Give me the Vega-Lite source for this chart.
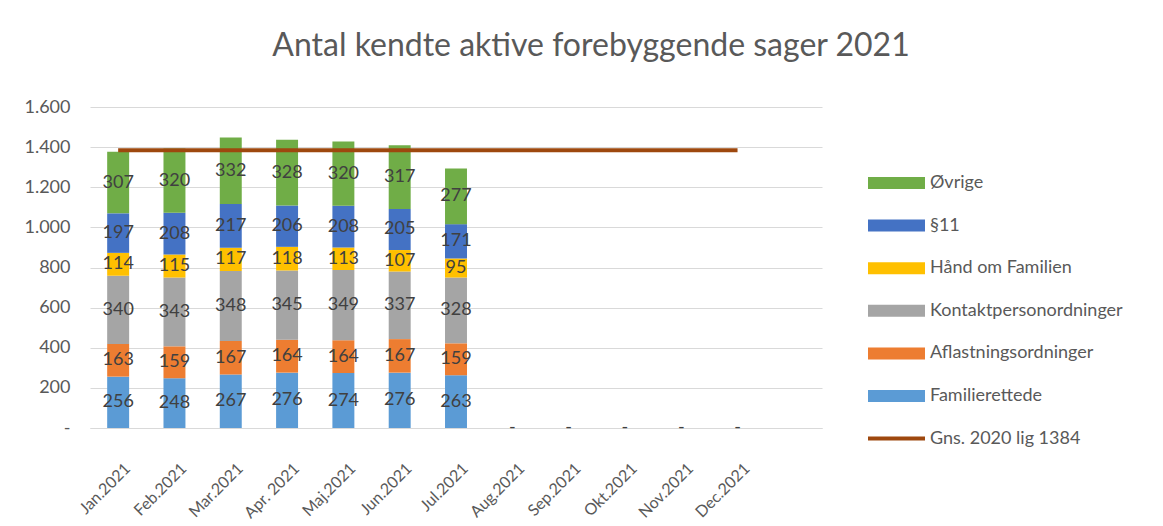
{
  "$schema": "https://vega.github.io/schema/vega-lite/v6.json",
  "autosize": {"type": "none"},
  "width": 732,
  "height": 321,
  "padding": {"left": 90, "top": 107, "right": 341, "bottom": 98},
  "background": "white",
  "config": {
    "font": "Lato",
    "view": {"stroke": null},
    "axis": {"labelFont": "Lato", "labelColor": "#595959", "titleColor": "#595959"},
    "legend": {"labelFont": "Lato"}
  },
  "title": {
    "text": "Antal kendte aktive forebyggende sager 2021",
    "font": "Lato",
    "fontSize": 32,
    "fontWeight": "normal",
    "color": "#595959",
    "anchor": "middle",
    "dx": 135,
    "offset": 35
  },
  "datasets": {
    "bars": [
      {"month": "Jan.2021", "series": "Familierettede", "value": 256},
      {"month": "Jan.2021", "series": "Aflastningsordninger", "value": 163},
      {"month": "Jan.2021", "series": "Kontaktpersonordninger", "value": 340},
      {"month": "Jan.2021", "series": "Hånd om Familien", "value": 114},
      {"month": "Jan.2021", "series": "§11", "value": 197},
      {"month": "Jan.2021", "series": "Øvrige", "value": 307},
      {"month": "Feb.2021", "series": "Familierettede", "value": 248},
      {"month": "Feb.2021", "series": "Aflastningsordninger", "value": 159},
      {"month": "Feb.2021", "series": "Kontaktpersonordninger", "value": 343},
      {"month": "Feb.2021", "series": "Hånd om Familien", "value": 115},
      {"month": "Feb.2021", "series": "§11", "value": 208},
      {"month": "Feb.2021", "series": "Øvrige", "value": 320},
      {"month": "Mar.2021", "series": "Familierettede", "value": 267},
      {"month": "Mar.2021", "series": "Aflastningsordninger", "value": 167},
      {"month": "Mar.2021", "series": "Kontaktpersonordninger", "value": 348},
      {"month": "Mar.2021", "series": "Hånd om Familien", "value": 117},
      {"month": "Mar.2021", "series": "§11", "value": 217},
      {"month": "Mar.2021", "series": "Øvrige", "value": 332},
      {"month": "Apr. 2021", "series": "Familierettede", "value": 276},
      {"month": "Apr. 2021", "series": "Aflastningsordninger", "value": 164},
      {"month": "Apr. 2021", "series": "Kontaktpersonordninger", "value": 345},
      {"month": "Apr. 2021", "series": "Hånd om Familien", "value": 118},
      {"month": "Apr. 2021", "series": "§11", "value": 206},
      {"month": "Apr. 2021", "series": "Øvrige", "value": 328},
      {"month": "Maj.2021", "series": "Familierettede", "value": 274},
      {"month": "Maj.2021", "series": "Aflastningsordninger", "value": 164},
      {"month": "Maj.2021", "series": "Kontaktpersonordninger", "value": 349},
      {"month": "Maj.2021", "series": "Hånd om Familien", "value": 113},
      {"month": "Maj.2021", "series": "§11", "value": 208},
      {"month": "Maj.2021", "series": "Øvrige", "value": 320},
      {"month": "Jun.2021", "series": "Familierettede", "value": 276},
      {"month": "Jun.2021", "series": "Aflastningsordninger", "value": 167},
      {"month": "Jun.2021", "series": "Kontaktpersonordninger", "value": 337},
      {"month": "Jun.2021", "series": "Hånd om Familien", "value": 107},
      {"month": "Jun.2021", "series": "§11", "value": 205},
      {"month": "Jun.2021", "series": "Øvrige", "value": 317},
      {"month": "Jul.2021", "series": "Familierettede", "value": 263},
      {"month": "Jul.2021", "series": "Aflastningsordninger", "value": 159},
      {"month": "Jul.2021", "series": "Kontaktpersonordninger", "value": 328},
      {"month": "Jul.2021", "series": "Hånd om Familien", "value": 95},
      {"month": "Jul.2021", "series": "§11", "value": 171},
      {"month": "Jul.2021", "series": "Øvrige", "value": 277},
      {"month": "Aug.2021", "series": "Familierettede", "value": 0},
      {"month": "Sep.2021", "series": "Familierettede", "value": 0},
      {"month": "Okt.2021", "series": "Familierettede", "value": 0},
      {"month": "Nov.2021", "series": "Familierettede", "value": 0},
      {"month": "Dec.2021", "series": "Familierettede", "value": 0}
    ],
    "avg": [
      {"month": "Jan.2021", "value": 1384},
      {"month": "Feb.2021", "value": 1384},
      {"month": "Mar.2021", "value": 1384},
      {"month": "Apr. 2021", "value": 1384},
      {"month": "Maj.2021", "value": 1384},
      {"month": "Jun.2021", "value": 1384},
      {"month": "Jul.2021", "value": 1384},
      {"month": "Aug.2021", "value": 1384},
      {"month": "Sep.2021", "value": 1384},
      {"month": "Okt.2021", "value": 1384},
      {"month": "Nov.2021", "value": 1384},
      {"month": "Dec.2021", "value": 1384}
    ]
  },
  "encoding": {
    "x": {
      "field": "month",
      "type": "nominal",
      "scale": {
        "domain": ["Jan.2021", "Feb.2021", "Mar.2021", "Apr. 2021", "Maj.2021", "Jun.2021", "Jul.2021", "Aug.2021", "Sep.2021", "Okt.2021", "Nov.2021", "Dec.2021", " "],
        "paddingInner": 0.61,
        "paddingOuter": 0.305
      },
      "axis": {
        "title": null,
        "labelAngle": -45,
        "labelFontSize": 16,
        "labelPadding": 32,
        "labelOffset": 4,
        "ticks": false,
        "domainColor": "#D9D9D9",
        "domainWidth": 1
      }
    }
  },
  "layer": [
    {
      "data": {"name": "bars"},
      "transform": [
        {"calculate": "indexof(['Familierettede','Aflastningsordninger','Kontaktpersonordninger','Hånd om Familien','§11','Øvrige'], datum.series)", "as": "rank"}
      ],
      "mark": {"type": "bar"},
      "encoding": {
        "y": {
          "field": "value",
          "type": "quantitative",
          "stack": "zero",
          "scale": {"domain": [0, 1600], "nice": false},
          "axis": {
            "title": null,
            "values": [0, 200, 400, 600, 800, 1000, 1200, 1400, 1600],
            "labelExpr": "datum.value == 0 ? '-' : replace(format(datum.value, ','), ',', '.')",
            "labelFontSize": 18,
            "labelPadding": 20,
            "ticks": false,
            "domain": false,
            "gridColor": "#D9D9D9",
            "gridWidth": 1
          }
        },
        "order": {"field": "rank", "type": "quantitative"},
        "color": {
          "field": "series",
          "type": "nominal",
          "scale": {
            "domain": ["Øvrige", "§11", "Hånd om Familien", "Kontaktpersonordninger", "Aflastningsordninger", "Familierettede", "Gns. 2020 lig 1384"],
            "range": ["#70AD47", "#4472C4", "#FFC000", "#A5A5A5", "#ED7D31", "#5B9BD5", "#9E480E"]
          },
          "legend": {
            "title": null,
            "orient": "none",
            "legendX": 796.5,
            "legendY": 66,
            "padding": 0,
            "symbolSize": 400,
            "symbolType": "M-2.85,-0.6H2.85V0.6H-2.85Z",
            "symbolStrokeWidth": 0,
            "rowPadding": 23.6,
            "labelOffset": 23.5,
            "labelFontSize": 18,
            "labelColor": "#595959",
            "labelLimit": 300,
            "encode": {
              "symbols": {
                "update": {
                  "shape": {"signal": "datum.value == 'Gns. 2020 lig 1384' ? 'M-2.85,-0.2H2.85V0.2H-2.85Z' : 'M-2.85,-0.6H2.85V0.6H-2.85Z'"},
                  "fill": {"scale": "color", "field": "value"},
                  "strokeWidth": {"value": 0},
                  "opacity": {"value": 1}
                }
              }
            }
          }
        }
      }
    },
    {
      "data": {"name": "bars"},
      "transform": [
        {"calculate": "indexof(['Familierettede','Aflastningsordninger','Kontaktpersonordninger','Hånd om Familien','§11','Øvrige'], datum.series)", "as": "rank"},
        {"stack": "value", "groupby": ["month"], "sort": [{"field": "rank", "order": "ascending"}], "as": ["v0", "v1"]},
        {"calculate": "(datum.v0 + datum.v1) / 2", "as": "mid"},
        {"calculate": "datum.value == 0 ? '-' : format(datum.value, 'd')", "as": "label"}
      ],
      "mark": {"type": "text", "font": "Lato", "fontSize": 18, "color": "#404040", "baseline": "middle", "align": "center"},
      "encoding": {
        "y": {"field": "mid", "type": "quantitative"},
        "text": {"field": "label"}
      }
    },
    {
      "data": {"name": "avg"},
      "mark": {"type": "line", "strokeWidth": 4, "strokeCap": "butt"},
      "encoding": {
        "y": {"field": "value", "type": "quantitative"},
        "color": {"datum": "Gns. 2020 lig 1384"}
      }
    }
  ]
}
